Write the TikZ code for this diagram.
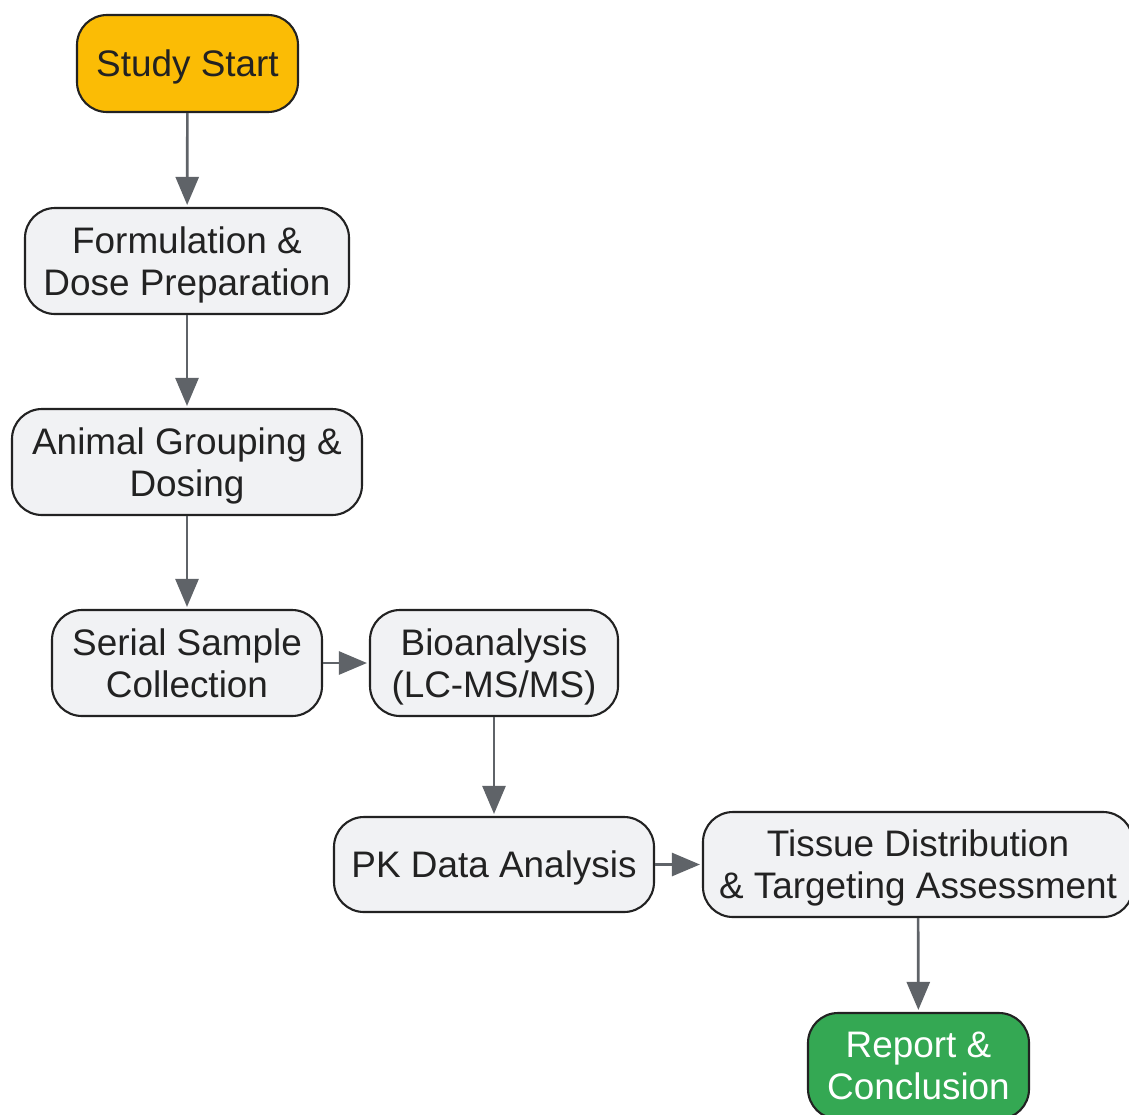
\documentclass[tikz,border=0pt]{standalone}
\usepackage{fontspec}
\setmainfont{Liberation Sans}
\usetikzlibrary{arrows.meta}
\definecolor{startc}{HTML}{FBBC05}
\definecolor{endc}{HTML}{34A853}
\definecolor{boxc}{HTML}{F1F2F4}
\definecolor{linec}{HTML}{222222}
\definecolor{arrc}{HTML}{5F6368}
\tikzset{
	stepbox/.style={draw=linec,fill=boxc,text=linec,line width=0.6pt,rounded corners=0.3cm,align=center,minimum height=1.06cm,inner sep=0pt,text depth=0pt},
	flow/.style={draw=arrc,line width=0.75pt,-{Triangle[length=0.28cm,width=0.23cm]},shorten >=0.02cm}
}
\begin{document}
\begin{tikzpicture}[line join=round,font=\fontsize{10.5pt}{12pt}\selectfont]
				\useasboundingbox (0,0) rectangle (11.29,-11.14);
				\path
				(1.875,-0.635) node[stepbox,fill=startc,minimum width=2.21cm,minimum height=0.97cm] (start) {Study Start}
				(1.87,-2.61) node[stepbox,minimum width=3.24cm] (form) {Formulation \&\\Dose Preparation}
				(1.87,-4.62) node[stepbox,minimum width=3.50cm] (dose) {Animal Grouping \&\\Dosing}
				(1.87,-6.63) node[stepbox,minimum width=2.70cm] (sample) {Serial Sample\\Collection}
				(4.94,-6.63) node[stepbox,minimum width=2.48cm] (bio) {Bioanalysis\\(LC-MS/MS)}
				(4.94,-8.645) node[stepbox,minimum width=3.20cm,minimum height=0.95cm] (pk) {PK Data Analysis}
				(9.18,-8.645) node[stepbox,minimum width=4.30cm,minimum height=1.05cm] (tissue) {Tissue Distribution\\\& Targeting Assessment}
				(9.185,-10.66) node[stepbox,fill=endc,text=white,minimum width=2.21cm] (report) {Report \&\\Conclusion}
				;
				\foreach \a/\b in {start/form,form/dose,dose/sample,sample/bio,bio/pk,pk/tissue,tissue/report}\draw[flow] (\a) -- (\b);
			\end{tikzpicture}
\end{document}
